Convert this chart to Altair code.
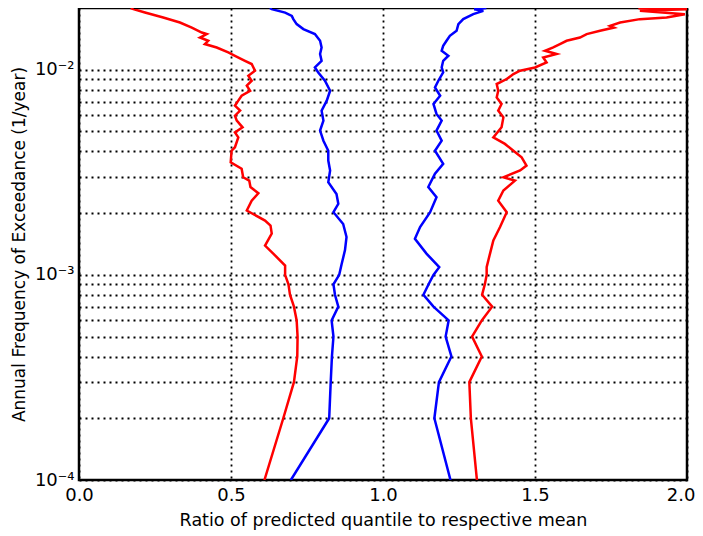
import altair as alt
import pandas as pd

# ---- data ----
red_lo_f = [0.0200, 0.01974, 0.01900, 0.01797, 0.01699, 0.01606, 0.01519, 0.01492, 0.01436, 0.01384,
            0.01334, 0.01284, 0.01214, 0.01170, 0.01106, 0.01066, 0.00989, 0.00935, 0.00884, 0.00836,
            0.00790, 0.00747, 0.00707, 0.00668, 0.00632, 0.00597, 0.00565, 0.00524, 0.00495, 0.00468,
            0.00419, 0.00403, 0.00354, 0.00329, 0.00299, 0.00288, 0.00268, 0.00250, 0.00230, 0.00206,
            0.00184, 0.00174, 0.00159, 0.00139, 0.00127, 0.00111, 0.0010, 0.0009, 0.0008, 0.0007,
            0.0006, 0.0005, 0.0004, 0.0003, 0.0002, 0.0001]
red_lo_r = [0.170, 0.179, 0.217, 0.277, 0.332, 0.371, 0.404, 0.420, 0.398, 0.425,
            0.414, 0.453, 0.491, 0.513, 0.546, 0.568, 0.579, 0.557, 0.568, 0.552,
            0.563, 0.535, 0.524, 0.513, 0.530, 0.513, 0.519, 0.538, 0.513, 0.524,
            0.513, 0.502, 0.499, 0.535, 0.540, 0.560, 0.564, 0.590, 0.568, 0.552,
            0.612, 0.630, 0.634, 0.612, 0.639, 0.678, 0.678, 0.689, 0.694, 0.707,
            0.716, 0.719, 0.718, 0.707, 0.672, 0.610]

blue_lo_f = [0.0200, 0.01974, 0.01900, 0.01831, 0.01765, 0.01669, 0.01578, 0.01492, 0.01384, 0.01284,
             0.01193, 0.01106, 0.01026, 0.00970, 0.00884, 0.00790, 0.00707, 0.00632, 0.00565, 0.00505,
             0.00451, 0.00403, 0.00361, 0.00323, 0.00283, 0.00248, 0.00222, 0.00202, 0.00177, 0.00153,
             0.00132, 0.00113, 0.0010, 0.0009, 0.0008, 0.0007, 0.0006, 0.0005, 0.0004, 0.0003,
             0.0002, 0.0001]
blue_lo_r = [0.628, 0.634, 0.678, 0.700, 0.705, 0.716, 0.738, 0.776, 0.793, 0.798,
             0.793, 0.798, 0.776, 0.787, 0.809, 0.826, 0.815, 0.798, 0.804, 0.793,
             0.804, 0.820, 0.820, 0.826, 0.820, 0.847, 0.853, 0.837, 0.869, 0.880,
             0.875, 0.864, 0.856, 0.837, 0.842, 0.853, 0.831, 0.837, 0.832, 0.828,
             0.823, 0.697]

blue_hi_f = [0.0200, 0.01974, 0.01937, 0.01866, 0.01765, 0.01669, 0.01548, 0.01464, 0.01384, 0.01308,
             0.01238, 0.01170, 0.01106, 0.01026, 0.00970, 0.00884, 0.00820, 0.00747, 0.00681, 0.00609,
             0.00565, 0.00505, 0.00451, 0.00403, 0.00348, 0.00311, 0.00268, 0.00239, 0.00202, 0.00171,
             0.00150, 0.00127, 0.00109, 0.0010, 0.0009, 0.0008, 0.0007, 0.0006, 0.0005, 0.0004,
             0.0003, 0.0002, 0.0001]
blue_hi_r = [1.340, 1.300, 1.330, 1.297, 1.264, 1.248, 1.242, 1.220, 1.209, 1.198,
             1.193, 1.215, 1.198, 1.193, 1.198, 1.182, 1.171, 1.188, 1.166, 1.176,
             1.193, 1.176, 1.193, 1.171, 1.198, 1.171, 1.149, 1.176, 1.155, 1.122,
             1.105, 1.143, 1.185, 1.166, 1.150, 1.133, 1.166, 1.216, 1.206, 1.225,
             1.184, 1.169, 1.222]

red_hi_f = [0.01992, 0.01974, 0.01937, 0.01866, 0.01797, 0.01765, 0.01699, 0.01637, 0.01606, 0.01548,
            0.01492, 0.01436, 0.01384, 0.01334, 0.01284, 0.01238, 0.01193, 0.01148, 0.01085, 0.01026,
            0.00989, 0.00953, 0.00901, 0.00852, 0.00790, 0.00733, 0.00681, 0.00632, 0.00586, 0.00524,
            0.00468, 0.00435, 0.00403, 0.00374, 0.00341, 0.00323, 0.00299, 0.00288, 0.00258, 0.00230,
            0.00202, 0.00171, 0.00147, 0.00127, 0.00109, 0.0010, 0.0009, 0.0008, 0.0007, 0.0006,
            0.0005, 0.0004, 0.0003, 0.0002, 0.0001]
red_hi_r = [1.840, 2.000, 1.845, 1.993, 1.933, 1.845, 1.780, 1.747, 1.760, 1.714,
            1.670, 1.648, 1.604, 1.582, 1.560, 1.533, 1.571, 1.527, 1.538, 1.500,
            1.451, 1.429, 1.407, 1.374, 1.379, 1.374, 1.390, 1.379, 1.396, 1.390,
            1.363, 1.401, 1.429, 1.456, 1.472, 1.451, 1.396, 1.434, 1.396, 1.379,
            1.407, 1.385, 1.363, 1.352, 1.341, 1.341, 1.335, 1.326, 1.359, 1.325,
            1.293, 1.325, 1.284, 1.289, 1.309]

x_ticks = [0.0, 0.5, 1.0, 1.5, 2.0]
y_ticks = [0.0001, 0.0002, 0.0003, 0.0004, 0.0005, 0.0006, 0.0007, 0.0008, 0.0009,
           0.001, 0.002, 0.003, 0.004, 0.005, 0.006, 0.007, 0.008, 0.009, 0.01]

series = [
    ("red_lo", "red", red_lo_f, red_lo_r),
    ("blue_lo", "blue", blue_lo_f, blue_lo_r),
    ("blue_hi", "blue", blue_hi_f, blue_hi_r),
    ("red_hi", "red", red_hi_f, red_hi_r),
]
rows = []
for name, col, fs, rs in series:
    for i, (f, r) in enumerate(zip(fs, rs)):
        rows.append({"series": name, "color": col, "freq": f, "ratio": r, "idx": i})
df = pd.DataFrame(rows)

FONT = "DejaVu Sans"

label_expr = ("datum.value == 0.0001 ? '10⁻⁴' : datum.value == 0.001 ? '10⁻³' : "
              "datum.value == 0.01 ? '10⁻²' : ''")

chart = alt.Chart(df).mark_line(strokeWidth=2.5, clip=True).encode(
    x=alt.X("ratio:Q",
            scale=alt.Scale(domain=[0, 2], nice=False, zero=False),
            axis=alt.Axis(values=x_ticks, format=".1f", title="Ratio of predicted quantile to respective mean",
                          grid=True, gridColor="black", gridDash=[2, 4], gridWidth=1.8,
                          ticks=False, domain=False, labelPadding=6, titlePadding=7, labelFlush=False,
                          labelAlign={"condition": {"test": "datum.value >= 2", "value": "right"}, "value": "center"},
                          labelOffset={"condition": {"test": "datum.value >= 2", "value": 8}, "value": 0},
                          labelFont=FONT, titleFont=FONT, labelFontSize=18, titleFontSize=17.5,
                          labelColor="black", titleColor="black", titleFontWeight="normal")),
    y=alt.Y("freq:Q",
            scale=alt.Scale(type="log", domain=[0.0001, 0.02], nice=False),
            axis=alt.Axis(values=y_ticks, labelExpr=label_expr, title="Annual Frequency of Exceedance (1/year)",
                          grid=True, gridColor="black", gridDash=[2, 4], gridWidth=1.8,
                          ticks=False, domain=False, labelPadding=5, titlePadding=6, labelFlush=False,
                          labelFont=FONT, titleFont=FONT, labelFontSize=18, titleFontSize=17,
                          labelColor="black", titleColor="black", titleFontWeight="normal")),
    color=alt.Color("color:N", scale=alt.Scale(domain=["red", "blue"], range=["#ff0000", "#0000ff"]), legend=None),
    detail="series:N",
    order="idx:Q",
).properties(
    width=608, height=472,
    background="white",
    autosize=alt.AutoSizeParams(type="none"),
    padding={"left": 71, "top": 0, "right": 8, "bottom": 60},
).configure_view(
    stroke="black", strokeWidth=2.5
)

chart.save("out.html", embed_options={"renderer": "svg", "actions": False})
